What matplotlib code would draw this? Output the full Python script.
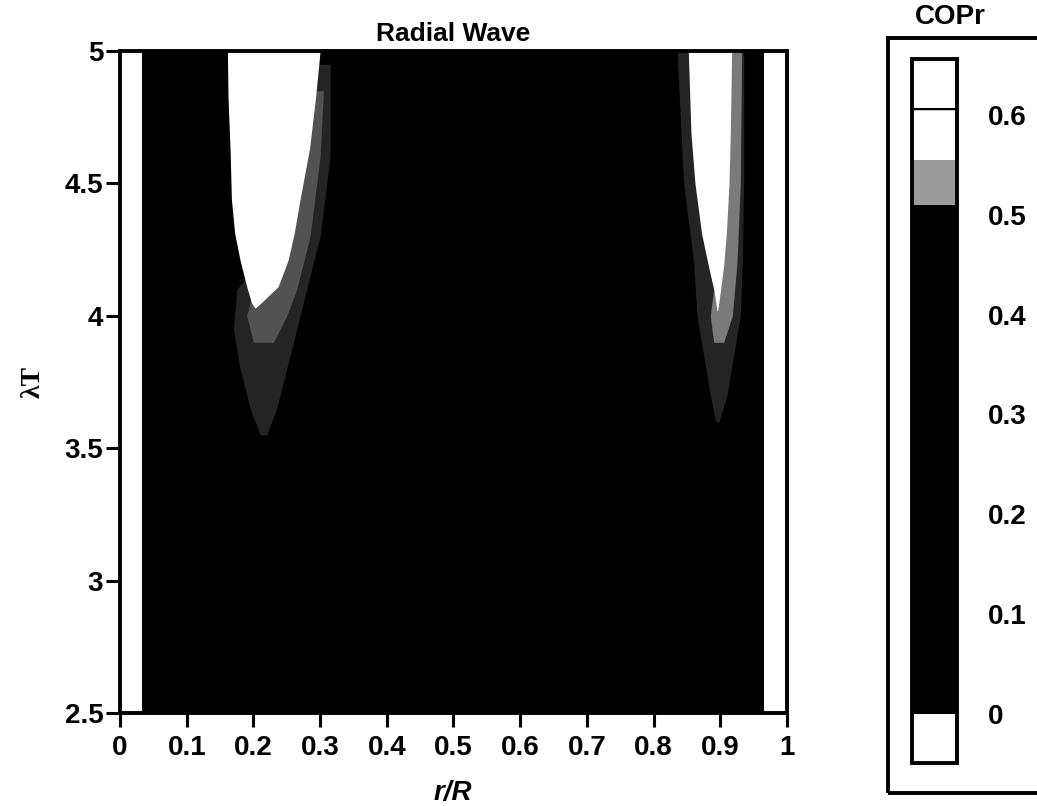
import matplotlib
matplotlib.use("Agg")
import matplotlib.pyplot as plt
from matplotlib.colors import ListedColormap, BoundaryNorm
from matplotlib.cm import ScalarMappable
from matplotlib.patches import Rectangle

# ---------------- data ----------------
# extent of the valid field (COPr >= 0); outside it COPr < 0 (white)
r_valid = [0.033, 0.966]
lam_range = [2.5, 5.0]

# left high-COPr pocket (COPr > 0.555)
v1_lam = [5.0, 4.82, 4.63, 4.44, 4.31, 4.21, 4.11, 4.05, 4.03]
v1_left = [0.161, 0.162, 0.165, 0.167, 0.172, 0.180, 0.190, 0.197, 0.202]
v1_right = [0.300, 0.293, 0.284, 0.270, 0.261, 0.252, 0.237, 0.212, 0.203]

# right high-COPr pocket (COPr > 0.555)
v2_lam = [5.0, 4.69, 4.50, 4.31, 4.19, 4.09, 4.02]
v2_left = [0.852, 0.856, 0.862, 0.872, 0.882, 0.891, 0.895]
v2_right = [0.917, 0.915, 0.913, 0.909, 0.905, 0.900, 0.896]

# transition zones (COPr ~ 0.51 - 0.555), sparse outer halo and denser core
g1o_lam = [4.95, 4.6, 4.3, 4.1, 3.95, 3.8, 3.65, 3.55]
g1o_left = [0.29, 0.27, 0.24, 0.175, 0.17, 0.18, 0.195, 0.21]
g1o_right = [0.315, 0.315, 0.30, 0.28, 0.265, 0.25, 0.235, 0.22]
g1i_lam = [4.85, 4.6, 4.3, 4.1, 4.0, 3.9]
g1i_left = [0.29, 0.27, 0.25, 0.20, 0.19, 0.20]
g1i_right = [0.305, 0.30, 0.285, 0.265, 0.25, 0.23]

g2o_lam = [5.0, 4.5, 4.2, 4.0, 3.85, 3.7, 3.6]
g2o_left = [0.835, 0.845, 0.86, 0.865, 0.875, 0.885, 0.893]
g2o_right = [0.935, 0.935, 0.933, 0.93, 0.92, 0.91, 0.898]
g2i_lam = [5.0, 4.5, 4.2, 4.0, 3.9]
g2i_left = [0.90, 0.90, 0.895, 0.885, 0.89]
g2i_right = [0.932, 0.93, 0.925, 0.918, 0.905]

# colour scale
cbar_levels = [0.0, 0.51, 0.555, 0.607]
cbar_colors = ["#000000", "#9a9a9a", "#ffffff"]
cbar_ticks = [0.0, 0.1, 0.2, 0.3, 0.4, 0.5, 0.6]
cbar_ticklabels = ["0", "0.1", "0.2", "0.3", "0.4", "0.5", "0.6"]
halo_colors = ["#242424", "#525252", "#7a7a7a"]

x_ticks = [0, 0.1, 0.2, 0.3, 0.4, 0.5, 0.6, 0.7, 0.8, 0.9, 1.0]
x_ticklabels = ["0", "0.1", "0.2", "0.3", "0.4", "0.5", "0.6", "0.7", "0.8", "0.9", "1"]
y_ticks = [2.5, 3.0, 3.5, 4.0, 4.5, 5.0]
y_ticklabels = ["2.5", "3", "3.5", "4", "4.5", "5"]

# ---------------- drawing ----------------
W, H = 1037, 806
plt.rcParams["font.family"] = ["Liberation Sans", "DejaVu Sans"]
plt.rcParams["font.weight"] = "bold"
fig = plt.figure(figsize=(W / 100, H / 100), dpi=100)

ax = fig.add_axes([120 / W, 1 - 713 / H, 667 / W, 662 / H])
ax.set_facecolor("white")

# valid field (COPr between 0 and 0.51) -> black
ax.fill_betweenx(lam_range, [r_valid[0]] * 2, [r_valid[1]] * 2,
                 color=cbar_colors[0], linewidth=0)
# transition halos
ax.fill_betweenx(g1o_lam, g1o_left, g1o_right, color=halo_colors[0], linewidth=0)
ax.fill_betweenx(g2o_lam, g2o_left, g2o_right, color=halo_colors[0], linewidth=0)
ax.fill_betweenx(g1i_lam, g1i_left, g1i_right, color=halo_colors[1], linewidth=0)
ax.fill_betweenx(g2i_lam, g2i_left, g2i_right, color=halo_colors[2], linewidth=0)
# high pockets
ax.fill_betweenx(v1_lam, v1_left, v1_right, color=cbar_colors[2], linewidth=0)
ax.fill_betweenx(v2_lam, v2_left, v2_right, color=cbar_colors[2], linewidth=0)

ax.set_xlim(0, 1)
ax.set_ylim(2.5, 5)
ax.set_xticks(x_ticks)
ax.set_xticklabels(x_ticklabels)
ax.set_yticks(y_ticks)
ax.set_yticklabels(y_ticklabels)
for s in ax.spines.values():
    s.set_linewidth(2.8)
ax.tick_params(axis="x", direction="out", length=10, width=2.2, labelsize=20, pad=6)
ax.tick_params(axis="y", direction="out", length=10, width=2.2, labelsize=20, pad=2)
for t in ax.get_xticklabels() + ax.get_yticklabels():
    t.set_fontweight("bold")

ax.set_title("Radial Wave", fontsize=19, fontweight="bold", pad=7)
fig.text(453 / W, 1 - 793 / H, "r/R", fontsize=20, fontweight="bold",
         style="italic", ha="center", va="center")
fig.text(33 / W, 1 - 382 / H, "λT", fontsize=20, fontweight="bold",
         rotation=90, ha="center", va="center",
         family=["Liberation Serif", "DejaVu Serif"])

# colour bar
cmap = ListedColormap(cbar_colors)
cmap.set_under("white")
cmap.set_over("white")
norm = BoundaryNorm(cbar_levels, ncolors=len(cbar_colors))
sm = ScalarMappable(norm=norm, cmap=cmap)
cax = fig.add_axes([912 / W, 1 - 763 / H, 45 / W, (763 - 59) / H])
cb = fig.colorbar(sm, cax=cax, extend="both", extendrect=True,
                  extendfrac=0.08, spacing="proportional", ticks=cbar_ticks)
cb.set_ticklabels(cbar_ticklabels)
cb.outline.set_linewidth(2.8)
cax.minorticks_off()
cax.axhline(cbar_levels[-1], color="black", linewidth=2.5)
cax.tick_params(length=0, labelsize=20, pad=22)
for t in cax.get_yticklabels():
    t.set_fontweight("bold")

fig.patches.append(Rectangle((888 / W, 1 - 793 / H), 200 / W, (793 - 38) / H,
                             transform=fig.transFigure, fill=False,
                             edgecolor="black", linewidth=2.8, clip_on=False))
fig.text(950 / W, 1 - 17 / H, "COPr", fontsize=20, fontweight="bold",
         ha="center", va="center")

fig.savefig("out.png", dpi=100)
